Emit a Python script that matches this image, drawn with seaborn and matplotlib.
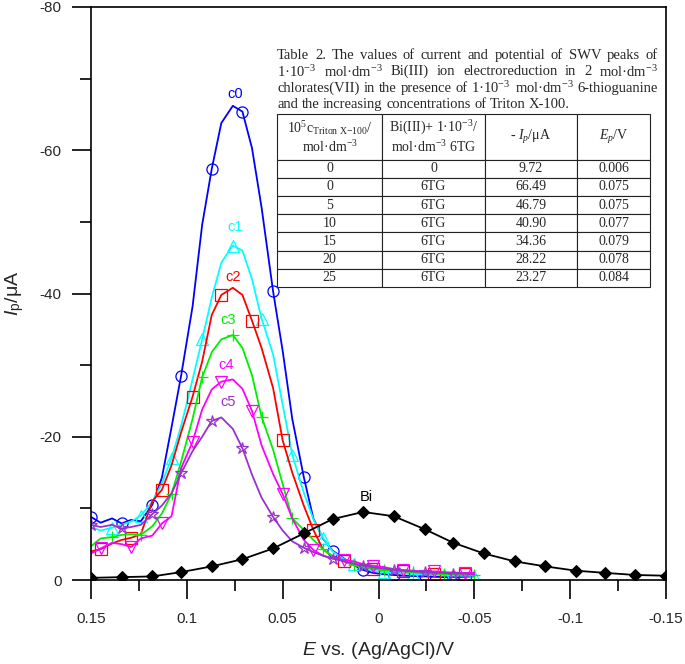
import numpy as np
import pandas as pd
import seaborn as sns
import matplotlib.pyplot as plt
from matplotlib.ticker import FixedLocator, FuncFormatter

sns.set_style("ticks")
plt.rcParams['font.family'] = ['Liberation Sans', 'DejaVu Sans']
plt.rcParams['axes.unicode_minus'] = False
plt.rcParams['mathtext.fontset'] = 'custom'
plt.rcParams['mathtext.rm'] = 'Liberation Serif'
plt.rcParams['mathtext.it'] = 'Liberation Serif:italic'
plt.rcParams['mathtext.sf'] = 'Liberation Sans'
plt.rcParams['mathtext.cal'] = 'Liberation Sans:italic'

# potentials (V) of the SWV curves with 6TG
E_c = [0.15, 0.145, 0.139, 0.134, 0.129, 0.124, 0.118, 0.113, 0.108, 0.103,
       0.097, 0.092, 0.087, 0.082, 0.076, 0.071, 0.066, 0.061, 0.055, 0.05,
       0.045, 0.039, 0.034, 0.029, 0.024, 0.018, 0.013, 0.008, 0.003, -0.003,
       -0.008, -0.013, -0.018, -0.024, -0.029, -0.034, -0.039, -0.045, -0.05]

c0 = [-8.8, -8.0, -8.6, -7.9, -8.4, -8.2, -10.5, -14.3, -21.3, -28.5,
      -38.2, -49.6, -57.4, -63.8, -66.2, -65.4, -60.3, -52.0, -40.3, -32.0,
      -22.5, -14.4, -8.6, -5.8, -4.1, -3.0, -2.1, -1.4, -1.0, -0.8,
      -0.7, -0.6, -0.55, -0.5, -0.45, -0.4, -0.4, -0.45, -0.5]
c1 = [-7.4, -6.9, -7.3, -7.7, -8.2, -9.0, -10.9, -13.5, -17.0, -21.5,
      -28.0, -33.6, -39.4, -44.3, -46.7, -46.0, -42.0, -36.5, -31.5, -24.5,
      -17.5, -12.2, -8.5, -5.9, -4.0, -2.9, -2.2, -1.7, -1.3, -1.1,
      -1.0, -0.9, -0.8, -0.8, -0.7, -0.7, -0.6, -0.6, -0.6]
c2 = [-4.0, -4.3, -5.1, -5.6, -5.9, -6.4, -11.0, -12.6, -16.0, -20.6,
      -25.6, -30.5, -37.0, -39.8, -40.8, -39.8, -36.2, -32.4, -26.8, -19.5,
      -15.0, -10.4, -7.0, -4.3, -3.3, -2.6, -2.1, -1.8, -1.6, -1.4,
      -1.3, -1.2, -1.1, -1.0, -0.9, -0.9, -0.8, -0.8, -0.7]
c3 = [-4.7, -5.8, -6.0, -6.3, -6.4, -6.3, -7.5, -9.3, -12.0, -16.5,
      -22.5, -28.3, -31.8, -33.6, -34.2, -32.4, -28.6, -22.8, -18.2, -13.4,
      -8.6, -7.0, -5.6, -4.3, -3.3, -2.6, -2.1, -1.8, -1.6, -1.4,
      -1.3, -1.2, -1.1, -1.0, -0.9, -0.8, -0.8, -0.7, -0.7]
c4 = [-3.7, -4.4, -5.2, -5.0, -4.6, -5.8, -6.2, -7.9, -8.9, -15.6,
      -19.3, -23.8, -26.6, -27.7, -28.0, -26.7, -23.6, -18.8, -14.8, -12.0,
      -8.6, -5.6, -4.2, -3.4, -3.0, -2.8, -2.6, -2.2, -2.0, -1.8,
      -1.5, -1.4, -1.3, -1.2, -1.2, -1.1, -1.0, -1.0, -1.0]
c5 = [-7.7, -7.4, -7.7, -7.2, -7.4, -7.7, -9.2, -10.4, -12.1, -14.9,
      -18.0, -20.0, -22.2, -22.7, -21.1, -18.4, -14.7, -11.5, -8.8, -6.9,
      -5.4, -4.5, -3.9, -3.4, -3.0, -2.6, -2.3, -2.0, -1.8, -1.6,
      -1.4, -1.3, -1.2, -1.1, -1.0, -1.0, -0.9, -0.9, -0.8]

# Bi(III) alone
E_bi = [0.15, 0.134, 0.118, 0.103, 0.087, 0.071, 0.055, 0.039, 0.024, 0.008,
        -0.008, -0.024, -0.039, -0.055, -0.071, -0.087, -0.103, -0.118, -0.134, -0.15]
bi = [-0.3, -0.4, -0.5, -1.1, -1.9, -2.9, -4.4, -6.5, -8.5, -9.5,
      -8.9, -7.1, -5.2, -3.7, -2.6, -1.9, -1.3, -1.0, -0.7, -0.6]

names = ['c0', 'c1', 'c2', 'c3', 'c4', 'c5']
colors = ['#0000ff', '#00ffff', '#ff0000', '#00ee00', '#ff00ff', '#9932cc']
markers = ['o', '^', 's', '+', 'v', '*']
mark_start = [0, 2, 1, 2, 1, 0]
label_pos = [(0.0749, -67.9), (0.0749, -49.3), (0.0758, -42.3),
             (0.0784, -36.3), (0.0796, -30.0), (0.0784, -24.8)]

# table data
col_labels = ['10$^{5}$c$_{\\mathrm{Triton\\ X{-}100}}$/\nmol·dm$^{-3}$',
              'Bi(III)+ 1·10$^{-3}$/\nmol·dm$^{-3}$ 6TG',
              '- $I_p$/μA', '$E_p$/V']
triton = ['0', '0', '5', '10', '15', '20', '25']
ligand = ['0', '6TG', '6TG', '6TG', '6TG', '6TG', '6TG']
ip_vals = ['9.72', '66.49', '46.79', '40.90', '34.36', '28.22', '23.27']
ep_vals = ['0.006', '0.075', '0.075', '0.077', '0.079', '0.078', '0.084']

caption = [
    ['Table', '2.', 'The', 'values', 'of', 'current', 'and', 'potential', 'of', 'SWV', 'peaks', 'of'],
    ['1·10$^{-3}$', 'mol·dm$^{-3}$', 'Bi(III)', 'ion', 'electroreduction', 'in', '2', 'mol·dm$^{-3}$'],
    ['chlorates(VII)', 'in', 'the', 'presence', 'of', '1·10$^{-3}$', 'mol·dm$^{-3}$', '6-thioguanine'],
    ['and', 'the', 'increasing', 'concentrations', 'of', 'Triton', 'X-100.'],
]

fig = plt.figure(figsize=(6.85, 6.64), dpi=100)
ax = fig.add_axes([91 / 685, 84 / 664, 575 / 685, 573 / 664])

for name, vals, col, mk, st in zip(names, [c0, c1, c2, c3, c4, c5], colors, markers, mark_start):
    df = pd.DataFrame({'E': E_c, 'I': vals})
    sns.lineplot(data=df, x='E', y='I', ax=ax, sort=False, color=col, lw=1.3,
                 marker=mk, markersize=8 if mk != '*' else 9, markevery=(st, 3),
                 markerfacecolor='none', markeredgecolor=col, markeredgewidth=0.9)

df_bi = pd.DataFrame({'E': E_bi, 'I': bi})
sns.lineplot(data=df_bi, x='E', y='I', ax=ax, sort=False, color='black', lw=1.3,
             marker='D', markersize=6, markeredgecolor='black', markerfacecolor='black')

for name, col, (ex, iy) in zip(names, colors, label_pos):
    ax.text(ex, iy, name, color=col, ha='center', va='center', fontsize=10.5)
ax.text(0.0062, -11.6, 'Bi', color='black', ha='center', va='center', fontsize=10.5)

ax.set_xlim(0.15, -0.15)
ax.set_ylim(0, -80)
ax.xaxis.set_major_locator(FixedLocator([0.15, 0.1, 0.05, 0, -0.05, -0.1, -0.15]))
ax.xaxis.set_minor_locator(FixedLocator([0.125, 0.075, 0.025, -0.025, -0.075, -0.125]))
ax.yaxis.set_major_locator(FixedLocator([0, -20, -40, -60, -80]))
ax.yaxis.set_minor_locator(FixedLocator([-10, -30, -50, -70]))
ax.xaxis.set_major_formatter(FuncFormatter(lambda v, p: '%g' % round(v, 3)))
ax.yaxis.set_major_formatter(FuncFormatter(lambda v, p: '%g' % v))
ax.tick_params(axis='both', which='major', direction='out', length=14, width=1.2,
               labelsize=11, color='black')
ax.tick_params(axis='both', which='minor', direction='out', length=8, width=1.2, color='black')
ax.tick_params(axis='x', which='major', pad=9)
ax.tick_params(axis='y', which='major', pad=7)
for s in ax.spines.values():
    s.set_linewidth(1.2)
    s.set_color('black')

ax.set_xlabel('$\\mathcal{E}$ vs. (Ag/AgCl)/V', fontsize=14, labelpad=10)
ax.set_ylabel('$\\mathcal{I}_{\\mathsf{p}}$/μA', fontsize=14, labelpad=10)

# inset table
rows = [list(r) for r in zip(triton, ligand, ip_vals, ep_vals)]
widths = [105, 103, 92, 73]
tbl = ax.table(cellText=rows, colLabels=col_labels, cellLoc='center',
               colWidths=[w / sum(widths) for w in widths],
               bbox=[0.3235, 0.5113, 0.6487, 0.3019], zorder=5)
tbl.auto_set_font_size(False)
tbl.set_fontsize(10)
for (r, c), cell in tbl.get_celld().items():
    cell.set_linewidth(0.8)
    cell.set_edgecolor('#222222')
    cell.get_text().set_fontfamily(['Liberation Serif', 'DejaVu Serif'])
    if r == 0:
        cell.set_height(cell.get_height() * 2.5)

# justified caption above the table
renderer = fig.canvas.get_renderer()
ax_w = ax.get_window_extent(renderer).width
x_left, x_right = 0.3235, 0.986
line_y = [0.9162, 0.8871, 0.8581, 0.829]
cap_size = 10.5
for i, (words, y) in enumerate(zip(caption, line_y)):
    txts = [ax.text(0, y, w, transform=ax.transAxes, ha='left', va='center',
                    fontsize=cap_size, family=['Liberation Serif', 'DejaVu Serif'])
            for w in words]
    ws = [t.get_window_extent(renderer).width / ax_w for t in txts]
    if i < len(caption) - 1:
        gap = (x_right - x_left - sum(ws)) / (len(words) - 1)
    else:
        space = ax.text(0, 0, 'a a', fontsize=cap_size, family='Liberation Serif')
        s2 = ax.text(0, 0, 'aa', fontsize=cap_size, family='Liberation Serif')
        gap = (space.get_window_extent(renderer).width - s2.get_window_extent(renderer).width) / ax_w
        space.remove()
        s2.remove()
    x = x_left
    for t, w in zip(txts, ws):
        t.set_x(x)
        x += w + gap

fig.savefig('out.png', dpi=100)
